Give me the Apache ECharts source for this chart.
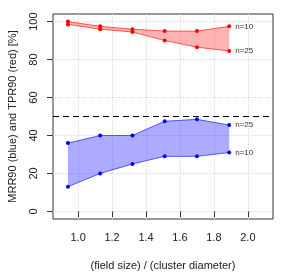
<!DOCTYPE html>
<html><head><meta charset="utf-8">
<script src="https://cdn.jsdelivr.net/npm/echarts@6/dist/echarts.min.js"></script>
<style>html,body{margin:0;padding:0;background:#fff}#c{width:299px;height:273px}</style>
</head><body><div id="c"></div>
<script>
var xVals = [0.94, 1.13, 1.32, 1.51, 1.70, 1.89];
var tpr10 = [100, 97.5, 96, 95, 95, 97.5];
var tpr25 = [98.5, 96, 94.5, 90, 86.5, 84.5];
var mrr25 = [36, 40, 40, 47.5, 48.5, 45.5];
var mrr10 = [13, 20, 25, 29, 29, 31];
var xTicks = [1.0, 1.2, 1.4, 1.6, 1.8, 2.0];
var yTicks = [0, 20, 40, 60, 80, 100];
var refLine = 50;

function pairs(ys){ return xVals.map(function(x,i){return [x, ys[i]];}); }
var FONT = 'Liberation Sans, Arial, sans-serif';

function band(upper, lower, fill){
  return {
    type: 'custom', silent: true, z: 1,
    data: [[0]],
    renderItem: function(params, api){
      var pts = [];
      for (var i=0;i<xVals.length;i++) pts.push(api.coord([xVals[i], upper[i]]));
      for (var j=xVals.length-1;j>=0;j--) pts.push(api.coord([xVals[j], lower[j]]));
      return {type:'polygon', shape:{points:pts}, style:{fill:fill, stroke:null}};
    }
  };
}
function line(ys, col, ptCol, label){
  return {
    type:'line', data: pairs(ys), z: 3,
    symbol:'circle', symbolSize:4,
    itemStyle:{color:ptCol},
    lineStyle:{color:col, width:1},
    animation:false,
    endLabel:{show:true, formatter:label, fontSize:8, color:'#333', fontFamily:FONT, distance:6}
  };
}

var chart = echarts.init(document.getElementById('c'), null, {renderer:'canvas'});
var series = [
  band(tpr10, tpr25, 'rgba(255,0,0,0.3)'),
  band(mrr25, mrr10, 'rgba(0,0,255,0.33)'),
  line(tpr10, 'rgba(255,0,0,0.6)', '#ff0000', 'n=10'),
  line(tpr25, 'rgba(255,0,0,0.6)', '#ff0000', 'n=25'),
  line(mrr25, 'rgba(0,0,255,0.6)', '#0000ff', 'n=25'),
  line(mrr10, 'rgba(0,0,255,0.6)', '#0000ff', 'n=10')
];
series[2].markLine = {
  silent:true, symbol:'none', animation:false,
  label:{show:false},
  lineStyle:{color:'#000', type:[6,4], width:1.2},
  data:[{yAxis: refLine}]
};
chart.setOption({
  animation:false,
  grid:{left:53, right:26, top:14, bottom:54, show:true, borderColor:'#333', borderWidth:1, backgroundColor:'transparent'},
  xAxis:{
    type:'value', min:0.852, max:2.148,
    axisLine:{show:false},
    axisTick:{show:true, inside:false, length:6, lineStyle:{color:'#333'}, customValues:xTicks},
    axisLabel:{fontSize:11, color:'#222', fontFamily:FONT, margin:13, customValues:xTicks,
      formatter:function(v){return v.toFixed(1);}},
    splitLine:{show:true, lineStyle:{color:'#dcdcdc', type:'dotted', width:1}}
  },
  yAxis:{
    type:'value', min:-4, max:104,
    axisLine:{show:false},
    axisTick:{show:true, inside:false, length:6, lineStyle:{color:'#333'}, customValues:yTicks},
    axisLabel:{fontSize:11, color:'#222', fontFamily:FONT, margin:14, rotate:90, customValues:yTicks},
    splitLine:{show:true, lineStyle:{color:'#dcdcdc', type:'dotted', width:1}}
  },
  graphic:[
    {type:'text', x:163, y:266, style:{text:'(field size) / (cluster diameter)', fill:'#222', font:'11px '+FONT, align:'center', verticalAlign:'middle'}},
    {type:'text', x:13, y:116.5, rotation:Math.PI/2, style:{text:'MRR90 (blue) and TPR90 (red) [%]', fill:'#222', font:'11px '+FONT, align:'center', verticalAlign:'middle'}}
  ],
  series: series
});
</script></body></html>
